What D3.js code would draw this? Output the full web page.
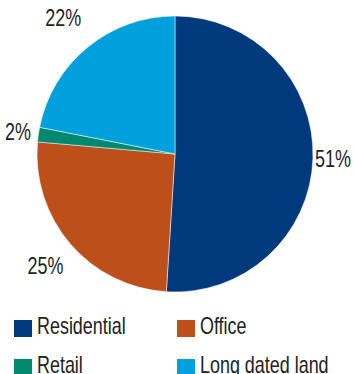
<!DOCTYPE html>
<html>
<head>
<meta charset="utf-8">
<script src="https://cdn.jsdelivr.net/npm/d3@7"></script>
<style>
  html, body { margin: 0; padding: 0; background: #fff; }
  svg { display: block; }
  text { font-family: "Liberation Sans", Arial, sans-serif; fill: #222; }
</style>
</head>
<body>
<div id="chart"></div>
<script>
var categories = ['Residential', 'Office', 'Retail', 'Long dated land'];
var values = [51.0, 25.4, 1.7, 21.9];
var labels = ['51%', '25%', '2%', '22%'];
var colours = ['#003a7c', '#bd501a', '#00896e', '#00a0dc'];

var width = 354, height = 374;
var cx = 175, cy = 154, radius = 138;
// no narrow font installed, so squeeze the text horizontally
var squeeze = 0.78;
var fontSize = 23;

var svg = d3.select('#chart')
    .append('svg')
    .attr('width', width)
    .attr('height', height);

var data = categories.map(function(c, i) {
    return { name: c, value: values[i], label: labels[i], colour: colours[i] };
});

var pie = d3.pie()
    .sort(null)
    .value(function(d) { return d.value; });

var arc = d3.arc()
    .innerRadius(0)
    .outerRadius(radius);

var arcs = pie(data);

var pieGroup = svg.append('g')
    .attr('transform', `translate(${cx}, ${cy})`);

pieGroup.selectAll('path')
    .data(arcs)
    .enter()
    .append('path')
    .attr('d', arc)
    .attr('fill', function(d) { return d.data.colour; })
    .attr('stroke', '#fff')
    .attr('stroke-width', 0.5);

function labelPos(d) {
    var a = (d.startAngle + d.endAngle) / 2;
    var c = Math.cos(a);
    var r = radius + 20 + 30 * c * c;
    return [Math.sin(a) * r, -c * r];
}

// percentage labels outside the slices
pieGroup.selectAll('text.pct')
    .data(arcs)
    .enter()
    .append('text')
    .attr('class', 'pct')
    .text(function(d) { return d.data.label; })
    .attr('text-anchor', 'middle')
    .attr('dy', '0.36em')
    .style('font-size', fontSize + 'px')
    .attr('transform', function(d) {
        var p = labelPos(d);
        return `translate(${p[0]}, ${p[1]}) scale(${squeeze}, 1)`;
    });

// legend, two columns
var legend = svg.append('g')
    .attr('transform', 'translate(14, 320)');

var items = legend.selectAll('g')
    .data(data)
    .enter()
    .append('g')
    .attr('transform', function(d, i) {
        return `translate(${(i % 2) * 163}, ${Math.floor(i / 2) * 39})`;
    });

items.append('rect')
    .attr('width', 18)
    .attr('height', 17)
    .attr('fill', function(d) { return d.colour; });

items.append('text')
    .text(function(d) { return d.name; })
    .attr('transform', `translate(23, 14) scale(${squeeze}, 1)`)
    .style('font-size', fontSize + 'px');
</script>
</body>
</html>
